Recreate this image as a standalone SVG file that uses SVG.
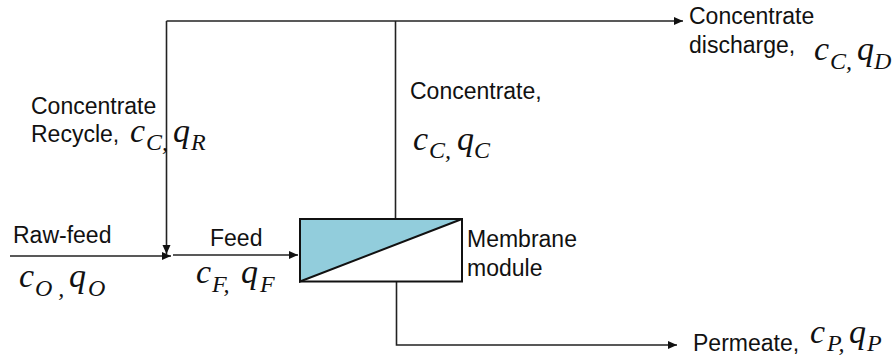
<svg xmlns="http://www.w3.org/2000/svg" width="895" height="358" viewBox="0 0 895 358">
<style>
.l{font:23px "Liberation Sans",Arial,sans-serif;fill:#111}
.m{font:italic 34px "Liberation Serif","Times New Roman",serif;fill:#111}
.s{font:italic 24px "Liberation Serif","Times New Roman",serif;fill:#111}
.c{fill:none;stroke:#222;stroke-width:1.6}
</style>
<defs>
<marker id="a" markerUnits="userSpaceOnUse" markerWidth="10" markerHeight="10" refX="9" refY="5" orient="auto"><path d="M0 1L9 5L0 9Z" fill="#111"/></marker>
</defs>
<rect width="895" height="358" fill="#fff"/>
<g id="connectors">
<path class="c" d="M166.500 21H683" marker-end="url(#a)"/>
<path class="c" d="M166.500 21V254" marker-end="url(#a)"/>
<path class="c" d="M395.500 21V219"/>
<path class="c" d="M10 256H171" marker-end="url(#a)"/>
<path class="c" d="M173 255H298" marker-end="url(#a)"/>
<path class="c" d="M396.500 282V345H677" marker-end="url(#a)"/>
</g>
<g id="membrane-module">
<rect x="300" y="219" width="162" height="62.500" fill="#fff" stroke="#111" stroke-width="2"/>
<path d="M300 281.500V219H462Z" fill="#92CDDC" stroke="#111" stroke-width="2"/>
<text class="l" x="467" y="247">Membrane</text>
<text class="l" x="467" y="276">module</text>
</g>
<g id="raw-feed">
<text class="l" x="13" y="243">Raw-feed</text>
<text class="m" x="19" y="287">c</text><text class="s" x="35" y="296">O ,</text><text class="m" x="69" y="287">q</text><text class="s" x="88" y="296">O</text>
</g>
<g id="feed">
<text class="l" x="210" y="246">Feed</text>
<text class="m" x="196" y="283">c</text><text class="s" x="212" y="292">F,</text><text class="m" x="241" y="283">q</text><text class="s" x="260" y="292">F</text>
</g>
<g id="concentrate-recycle">
<text class="l" x="31" y="114">Concentrate</text>
<text class="l" x="31" y="142">Recycle,</text>
<text class="m" x="130" y="142">c</text><text class="s" x="146" y="150">C,</text><text class="m" x="173" y="142">q</text><text class="s" x="191" y="150">R</text>
</g>
<g id="concentrate">
<text class="l" x="410" y="99">Concentrate,</text>
<text class="m" x="413" y="150">c</text><text class="s" x="429" y="158">C,</text><text class="m" x="457" y="150">q</text><text class="s" x="474" y="158">C</text>
</g>
<g id="concentrate-discharge">
<text class="l" x="689" y="24">Concentrate</text>
<text class="l" x="689" y="53">discharge,</text>
<text class="m" x="814" y="60">c</text><text class="s" x="830" y="69">C,</text><text class="m" x="857" y="60">q</text><text class="s" x="874" y="69">D</text>
</g>
<g id="permeate">
<text class="l" x="693" y="351">Permeate,</text>
<text class="m" x="810" y="343">c</text><text class="s" x="827" y="351">P,</text><text class="m" x="849" y="343">q</text><text class="s" x="867" y="351">P</text>
</g>
</svg>
